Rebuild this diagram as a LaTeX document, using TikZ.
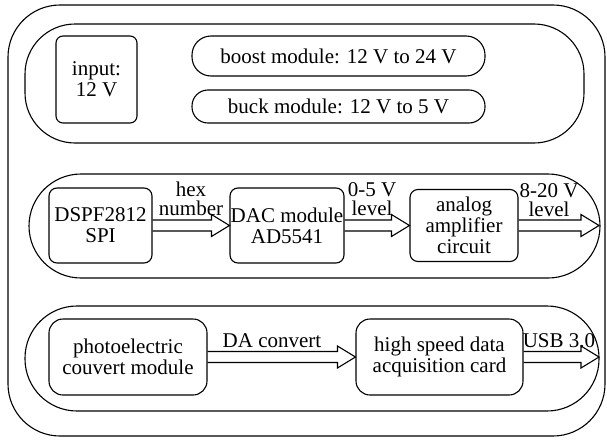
\documentclass[tikz,border=0pt]{standalone}
\usepackage{fontspec}
\setmainfont{Liberation Serif}
\usetikzlibrary{calc}

\tikzset{
  box/.style={draw, line width=1.1pt, rounded corners=8pt, align=center, inner sep=0pt,
    font=\rmfamily\fontsize{21}{21}\selectfont},
  pill/.style={box, rounded corners=16pt},
  panel/.style={draw, line width=1.1pt, rounded corners=50pt},
  lbl/.style={align=center, inner sep=0pt, anchor=south, font=\rmfamily\fontsize{21}{19}\selectfont},
}
\newcommand\fatarrow[2]{%
  \draw[line width=1.1pt, line join=miter] ($(#1)+(0,-5.5)$) -- ($(#2)+(-18,-5.5)$) -- ($(#2)+(-18,-11)$)
    -- (#2) -- ($(#2)+(-18,11)$) -- ($(#2)+(-18,5.5)$) -- ($(#1)+(0,5.5)$);}

\begin{document}
\begin{tikzpicture}[x=1pt, y=-1pt]
			\path[use as bounding box] (0,0) rectangle (607,439);
			\draw[panel, rounded corners=52pt] (8,5) rectangle (605,436);
			\draw[panel] (25,24) rectangle (584,143);
			\draw[panel, rounded corners=52pt] (29,174) rectangle (600,278);
			\draw[panel, rounded corners=52pt] (25,306) rectangle (599,411);

			\node[box, rounded corners=7pt, minimum width=81pt, minimum height=87pt] (input) at (96.5,79.5) {input:\\12 V};
			\node[pill, rounded corners=19pt, minimum width=293pt, minimum height=40pt] (boost) at (338.5,56) {boost module: 12 V to 24 V};
			\node[pill, minimum width=293pt, minimum height=33pt] (buck) at (338.5,106.5) {buck module: 12 V to 5 V};

			\node[box, minimum width=103pt, minimum height=75pt] (dsp) at (100.5,225.5) {DSPF2812\\SPI};
			\node[box, minimum width=114pt, minimum height=75pt] (dac) at (287,225.5) {DAC module\\AD5541};
			\node[box, minimum width=108pt, minimum height=72pt] (amp) at (464,225.5) {analog\\amplifier\\circuit};
			\coordinate (ampout) at (599,225.5);

			\node[box, rounded corners=14pt, minimum width=158pt, minimum height=76pt] (photo) at (128,357) {photoelectric\\couvert module};
			\node[box, rounded corners=14pt, minimum width=167pt, minimum height=76pt] (card) at (439.5,357) {high speed data\\acquisition card};
			\coordinate (usbout) at (599,357);

			\fatarrow{dsp.east}{dac.west}
			\fatarrow{dac.east}{amp.west}
			\fatarrow{amp.east}{ampout}
			\fatarrow{photo.east}{card.west}
			\fatarrow{card.east}{usbout}

			\node[lbl] (hexlbl) at (191,216) {hex\\number};
			\node[lbl] (daclbl) at (372,216) {0-5 V\\level};
			\node[lbl] (amplbl) at (549,217) {8-20 V\\level};
			\node[lbl] (dalbl) at (272,348) {DA convert};
			\node[lbl] (usblbl) at (559,348) {USB 3.0};
		\end{tikzpicture}
\end{document}
